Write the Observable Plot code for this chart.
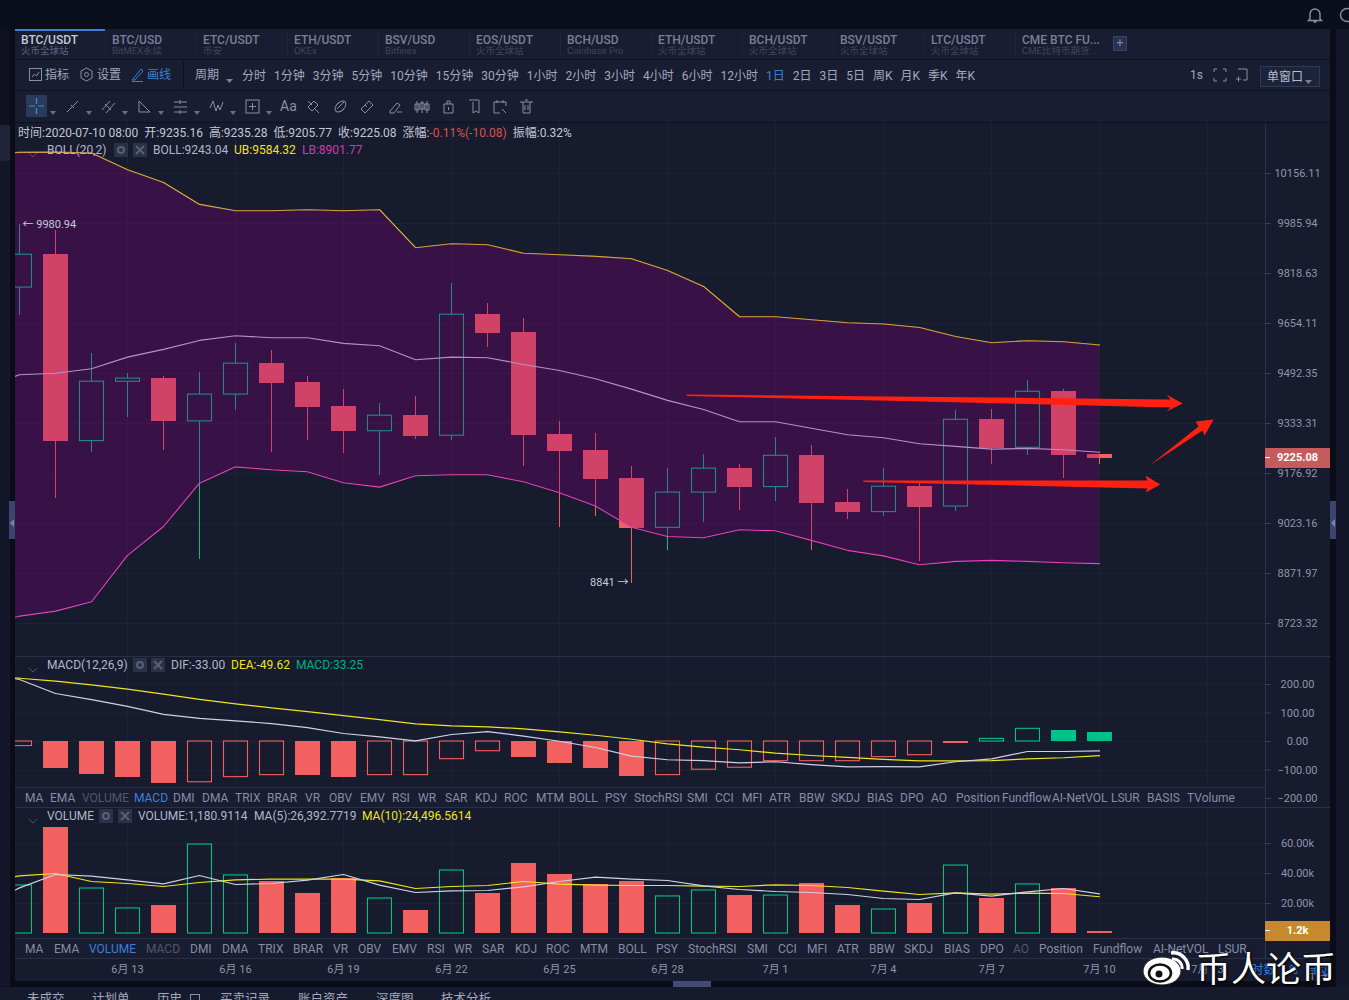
<!DOCTYPE html>
<html lang="zh"><head><meta charset="utf-8"><title>BTC/USDT</title>
<script src="https://cdn.jsdelivr.net/npm/d3@7"></script>
<script src="https://cdn.jsdelivr.net/npm/@observablehq/plot@0.6"></script>
<style>
html,body{margin:0;padding:0;width:1349px;height:1000px;overflow:hidden;background:#0b0e1a;}
body{position:relative;font:12px Roboto,"Noto Sans CJK SC",sans-serif;color:#a3a8bf;}
.a{position:absolute;white-space:nowrap;}
.row{display:flex;align-items:center;white-space:nowrap;}
.plotbox{position:absolute;left:15px;}
.plotbox svg{display:block;max-width:none;}
</style></head><body>
<script>
// ---------- data ----------
const tabTitles=["BTC/USDT","BTC/USD","ETC/USDT","ETH/USDT","BSV/USD","EOS/USDT","BCH/USD","ETH/USDT","BCH/USDT","BSV/USDT","LTC/USDT","CME BTC FU..."];
const tabSubs=["火币全球站","BitMEX永续","币安","OKEx","Bitfinex","火币全球站","Coinbase Pro","火币全球站","火币全球站","火币全球站","火币全球站","CME比特币期货..."];
const periods=["分时","1分钟","3分钟","5分钟","10分钟","15分钟","30分钟","1小时","2小时","3小时","4小时","6小时","12小时","1日","2日","3日","5日","周K","月K","季K","年K"];
const macdTabs=["MA","EMA","VOLUME","MACD","DMI","DMA","TRIX","BRAR","VR","OBV","EMV","RSI","WR","SAR","KDJ","ROC","MTM","BOLL","PSY","StochRSI","SMI","CCI","MFI","ATR","BBW","SKDJ","BIAS","DPO","AO","Position","Fundflow","AI-NetVOL","LSUR","BASIS","TVolume"];
const volTabs=["MA","EMA","VOLUME","MACD","DMI","DMA","TRIX","BRAR","VR","OBV","EMV","RSI","WR","SAR","KDJ","ROC","MTM","BOLL","PSY","StochRSI","SMI","CCI","MFI","ATR","BBW","SKDJ","BIAS","DPO","AO","Position","Fundflow","AI-NetVOL","LSUR"];
const bottomTabs=["未成交","计划单","历史","买卖记录","账户资产","深度图","技术分析"];

const openP=[9772,9882,9278,9466,9477,9340,9425,9525,9464,9387,9309,9359,9295,9684,9625,9299,9249,9162,9010,9118,9193,9135,9233,9088,9058,9137,9075,9346,9257,9435,9235.16];
const highP=[9980.94,9962,9556,9492,9483,9496,9589,9565,9483,9440,9396,9419,9787,9721,9672,9340,9301,9198,9192,9237,9205,9290,9264,9126,9193,9145,9375,9378,9470,9440,9235.28];
const lowP=[9680,9101,9243,9351,9247,8915,9374,9242,9281,9240,9172,9282,9280,9577,9200,9012,9046,8841,8941,9026,9064,9092,8942,9035,9046,8909,9060,9205,9233,9161,9205.77];
const closeP=[9881,9277,9466,9476,9340,9425,9524,9460,9384,9308,9358,9293,9683,9622,9296,9246,9158,9008,9118,9192,9134,9232,9085,9057,9136,9072,9345,9255,9434,9233,9225.08];
// Bollinger series start one day before the first visible candle
const ubP=[10222,10228.8,10229.8,10226.3,10168.9,10125.5,10050.6,10029.2,10029,10032.6,10029,10032.6,9904.6,9918,9914.7,9886,9881.2,9875.5,9867.8,9828.7,9775.9,9676.2,9676,9666.3,9656.4,9652.5,9641.2,9612,9591.7,9598.1,9594.9,9584.32];
const midP=[9448,9488.2,9493.3,9507.5,9545.1,9570,9599.1,9614.3,9607.8,9607.8,9589.4,9582,9536.7,9545.1,9543.2,9521.5,9502,9475.5,9442.4,9406.5,9377.8,9338.7,9338.7,9318.6,9298,9288.6,9269.8,9261.4,9252.9,9255.1,9251,9243.04];
const lbP=[8718,8745,8759.9,8787.8,8926.4,9014.1,9147.1,9197.6,9188.5,9182.2,9148.3,9134.8,9169.8,9172.9,9172.9,9151.4,9117.6,9076.4,9012,8983.8,8979.9,9004.1,9001.1,8971.8,8941.7,8925,8898.3,8908.4,8911.4,8908.4,8904.4,8901.77];

const macdHist=[-16,-94,-116,-126,-147,-143,-125,-118,-119,-126,-118,-118,-62,-34,-56,-77,-95,-123,-118,-99,-92,-69,-69,-69,-55,-48,-6,9.3,44.5,38.6,33.25];
const macdFilledDays=[1,2,3,4,8,9,14,15,16,17,26,29,30];
const difV=[240,217.5,168.4,147,123,95,81,72.5,63,49,28,16.4,2.3,24.6,35,18.7,1,-21,-51.5,-64,-67,-75,-71,-81,-89,-88,-89,-71,-61,-35,-35,-33];
const deaV=[228,222,212,199,184,166,148,132,118,105,91,77,62,55,51.5,44.5,34,22,8,-8,-20,-29,-41,-49,-56,-63,-68,-68,-67,-61,-57,-49.62];

const volumeV=[32000,70900,30000,16700,18900,59300,38700,34900,26900,36900,23300,15500,42000,26900,46900,39500,32900,34900,24700,28700,25500,25300,33500,18900,16000,20200,45300,23500,32700,29700,1180.91];
const ma5V=[18400,30440,39330,38220,35780,33110,38660,32660,33330,35550,39330,32220,27330,28440,28660,31110,34660,37550,36220,35330,31770,29330,28000,27330,26000,23330,22660,27110,24890,27780,30000,26392.77];
const ma10V=[34000,38440,40000,34670,33330,31330,34000,35780,36220,36220,36220,35110,30000,31330,32000,34670,32890,32220,32000,32000,31550,31330,32440,32000,30670,28220,26000,27110,26220,26890,26670,24496.56];

const priceTicks=[10156.11,9985.94,9818.63,9654.11,9492.35,9333.31,9176.92,9023.16,8871.97,8723.32];
const macdTicks=[200,100,0,-100,-200];
const volTicks=[20000,40000,60000];
const dayTicks=[3,6,9,12,15,18,21,24,27,30,33];
const dayLabels=["6月 13","6月 16","6月 19","6月 22","6月 25","6月 28","7月 1","7月 4","7月 7","7月 10","7月 13"];
const extremes=[{i:0,p:9980.94,t:"← 9980.94",side:"start"},{i:17,p:8841,t:"8841 →",side:"end"}];

// hand-drawn red annotation arrows: [day index, price] outline
const arrowUpper=[[18.53,9425.5],[31.97,9409.6],[31.86,9425.5],[32.31,9396.9],[31.86,9371.5],[31.97,9384.2],[18.53,9420.8]];
const arrowLower=[[23.44,9155.4],[31.33,9155.4],[31.28,9170.8],[31.69,9143.1],[31.28,9118.5],[31.33,9130.8],[23.44,9150.8]];
const arrowRise=[[31.39,9202],[32.75,9323.9],[32.67,9339.6],[33.17,9345.9],[32.92,9295.8],[32.86,9311.4]];

// ---------- layout of the text tab strips ----------
const macdTabX=[25,50,82,134,173,202,235,267,305,329,360,392,418,445,475,504,536,569,605,634,687,715,742,769,799,831,867,900,931,956,1002,1052,1111,1147,1187];
const volTabX=[25,54,89,146,190,222,258,293,333,358,392,427,454,482,515,546,580,618,656,688,747,778,807,837,869,904,944,980,1013,1039,1093,1153,1218];

// ---------- colours ----------
const UP="#00c288", DOWN="#f2605f", WHITE="#cfd1e6", YEL="#f0e41e", PINK="#ee45bd", GRID="#1d2235", AXIS="#2c3350", TICKTXT="#8f94ab";
const FONT='Roboto,"Noto Sans CJK SC",sans-serif';
const XD=[-4/36,1246/36];
const CRISP={shapeRendering:"crispEdges",clip:true};

function box(l,t,w,h,bg,extra=""){const d=document.createElement("div");d.className="a";d.style.cssText=`left:${l}px;top:${t}px;width:${w}px;height:${h}px;background:${bg};${extra}`;document.body.appendChild(d);return d;}
function txt(l,cy,s,color="#a3a8bf",size=12,extra=""){const d=document.createElement("div");d.className="a";d.style.cssText=`left:${l}px;top:${cy-9}px;height:18px;line-height:18px;color:${color};font-size:${size}px;${extra}`;d.textContent=s;document.body.appendChild(d);return d;}
function svgAt(l,t,w,h,inner){const d=document.createElement("div");d.className="a";d.style.cssText=`left:${l}px;top:${t}px;width:${w}px;height:${h}px;`;d.innerHTML=`<svg width="${w}" height="${h}" viewBox="0 0 ${w} ${h}" fill="none" stroke="#8a8fa8" stroke-width="1">${inner}</svg>`;document.body.appendChild(d);return d;}

// chart background sits beneath the plots
box(15,123,1315,858,"#161b2d");

const rows=openP.map((o,i)=>({i,o,h:highP[i],l:lowP[i],c:closeP[i],up:closeP[i]>=o,top:Math.max(o,closeP[i]),bot:Math.min(o,closeP[i]),
  hist:macdHist[i],filled:macdFilledDays.includes(i),vol:volumeV[i]}));
const lineRows=ubP.map((u,k)=>({i:k-1,ub:u,mid:midP[k],lb:lbP[k],dif:difV[k],dea:deaV[k],ma5:ma5V[k],ma10:ma10V[k]}));

const BW=12.5/36, HW=12/36, HOLLOW={strokeWidth:1.1,dx:.5,clip:true};
function bars(data,y2,colorOf,filled){
  return [
    Plot.rectY(data.filter(filled),{x1:d=>d.i-BW,x2:d=>d.i+BW,y1:0,y2,fill:colorOf,...CRISP}),
    Plot.rectY(data.filter(d=>!filled(d)),{x1:d=>d.i-HW,x2:d=>d.i+HW,y1:0,y2,fill:"none",stroke:colorOf,...HOLLOW})
  ];
}
function frameBase(ticks){
  return [
    Plot.ruleY(ticks,{stroke:GRID,strokeWidth:1,...CRISP}),
    Plot.ruleX(dayTicks,{stroke:GRID,strokeWidth:1,...CRISP})
  ];
}
function mount(svg,top){
  const b=document.createElement("div");b.className="plotbox";b.style.top=top+"px";b.appendChild(svg);document.body.appendChild(b);
}
const common=(h,mb=0)=>({width:1315,height:h,marginLeft:0,marginRight:65,marginTop:0,marginBottom:mb,
  style:{background:"transparent",fontFamily:FONT,fontSize:"11px",color:TICKTXT,overflow:"visible"}});

// ---------- main price panel ----------
const arrowMark=a=>Plot.line(a,{x:d=>d[0],y:d=>d[1],fill:"#ff2012",stroke:"none",curve:"linear"});
const pricePlot=Plot.plot({...common(532),
  x:{domain:XD,axis:null},
  y:{type:"log",domain:[8626.6,10325.7],range:[532,0],axis:null},
  marks:[
    ...frameBase(priceTicks),
    Plot.ruleX(rows,{x:"i",y1:"top",y2:"h",stroke:d=>d.up?UP:DOWN,strokeWidth:1,...CRISP}),
    Plot.ruleX(rows,{x:"i",y1:"l",y2:"bot",stroke:d=>d.up?UP:DOWN,strokeWidth:1,...CRISP}),
    Plot.rect(rows.filter(d=>!d.up),{x1:d=>d.i-BW,x2:d=>d.i+BW,y1:"top",y2:"bot",fill:DOWN,...CRISP}),
    Plot.rect(rows.filter(d=>d.up),{x1:d=>d.i-HW,x2:d=>d.i+HW,y1:"top",y2:"bot",fill:"none",stroke:UP,...HOLLOW}),
    Plot.line(lineRows,{x:"i",y:"ub",stroke:"#f5de22",strokeWidth:1.1,clip:true}),
    Plot.line(lineRows,{x:"i",y:"mid",stroke:WHITE,strokeWidth:1.1,clip:true}),
    Plot.line(lineRows,{x:"i",y:"lb",stroke:PINK,strokeWidth:1.1,clip:true}),
    Plot.areaY(lineRows,{x:"i",y1:"lb",y2:"ub",fill:"#83017e",fillOpacity:.31,clip:true}),
    Plot.ruleX([XD[1]],{stroke:AXIS}),
    Plot.axisY({ticks:priceTicks,anchor:"right",tickFormat:d3.format(".2f"),tickSize:5,tickPadding:27,textAnchor:"middle",stroke:"#3a4058",fill:TICKTXT}),
    Plot.text(extremes,{x:"i",y:"p",text:"t",textAnchor:"start",dx:3,dy:-1,fill:"#c6c9dc",filter:d=>d.side==="start"}),
    Plot.text(extremes,{x:"i",y:"p",text:"t",textAnchor:"end",dx:-3,dy:-1,fill:"#c6c9dc",filter:d=>d.side==="end"}),
    arrowMark(arrowUpper),arrowMark(arrowLower),arrowMark(arrowRise)
  ]});
mount(pricePlot,124);

// ---------- MACD panel ----------
const macdPlot=Plot.plot({...common(151),
  x:{domain:XD,axis:null},
  y:{domain:[-235,294.7],range:[151,0],axis:null},
  marks:[
    ...frameBase(macdTicks),
    ...bars(rows,"hist",d=>d.hist>=0?UP:DOWN,d=>d.filled),
    Plot.line(lineRows,{x:"i",y:"dea",stroke:YEL,strokeWidth:1.2,clip:true}),
    Plot.line(lineRows,{x:"i",y:"dif",stroke:WHITE,strokeWidth:1.2,clip:true}),
    Plot.ruleX([XD[1]],{stroke:AXIS}),
    Plot.axisY({ticks:macdTicks,anchor:"right",tickFormat:d3.format(".2f"),tickSize:5,tickPadding:27,textAnchor:"middle",stroke:"#3a4058",fill:TICKTXT})
  ]});
mount(macdPlot,657);

// ---------- Volume panel ----------
const volPlot=Plot.plot({...common(174,24),
  x:{domain:XD,axis:null},
  y:{domain:[-16667,83333],range:[150,0],axis:null},
  marks:[
    ...frameBase(volTicks),
    ...bars(rows,"vol",d=>d.up?UP:DOWN,d=>!d.up),
    Plot.line(lineRows,{x:"i",y:"ma10",stroke:YEL,strokeWidth:1.2,clip:true}),
    Plot.line(lineRows,{x:"i",y:"ma5",stroke:WHITE,strokeWidth:1.2,clip:true}),
    Plot.ruleX([XD[1]],{stroke:AXIS}),
    Plot.axisY({ticks:volTicks,anchor:"right",tickFormat:d=>(d/1000).toFixed(2)+"k",tickSize:5,tickPadding:27,textAnchor:"middle",stroke:"#3a4058",fill:TICKTXT}),
    Plot.axisX({ticks:dayTicks,tickFormat:d=>dayLabels[dayTicks.indexOf(d)],tickSize:0,tickPadding:7,fill:TICKTXT,stroke:"none"})
  ]});
mount(volPlot,808);

// ---------- page chrome ----------
box(0,0,1349,29,"#0b0e1b");
box(0,29,10,96,"#0d1120");box(0,125,10,36,"#1f2438");box(0,161,10,825,"#131729");
box(1336,29,13,960,"#131729");
box(15,29,1315,30,"#191d31");box(15,59,1315,1,"#0e1120");
box(15,60,1315,30,"#191d31");box(15,90,1315,1,"#0e1120");
box(15,91,1315,31,"#191d31");box(15,122,1315,1,"#0e1120");
box(15,656,1315,1,"#2a3048");

// top tabs
tabTitles.forEach((t,i)=>{
  const x=21+91*i;
  txt(x,40,t,i===0?"#c6c9dc":"#7a7f98",12,"font-weight:500;");
  txt(x,51,tabSubs[i],i===0?"#5f6480":"#40455c",9.5);
  if(i>0) box(x-7,33,1,23,"#20253b");
});
box(15,29,90,1.5,"#3a80d8");
box(1113,36,14,15,"#2a3150","border:1px solid #3a4468;box-sizing:border-box;color:#7f86a8;text-align:center;line-height:12px;").textContent="+";
svgAt(1306,6,18,18,`<path d="M4 13V8a5 5 0 0 1 10 0v5l1.5 1.5h-13zM7.5 16h3" stroke="#8a8fa8" stroke-width="1.4"/>`);
svgAt(1338,6,11,18,`<circle cx="9" cy="9" r="6.5" stroke="#8a8fa8" stroke-width="1.4"/>`);

// toolbar row 1
svgAt(29,68,13,13,`<rect x=".5" y=".5" width="12" height="12"/><path d="M3 9l2.5-3 2 2L10 4"/>`);
txt(45,75,"指标");
svgAt(80,67,13,15,`<path d="M6.5 1l5.5 3v7l-5.5 3L1 11V4z"/><circle cx="6.5" cy="7.5" r="2"/>`);
txt(97,75,"设置");
svgAt(131,67,13,15,`<path d="M2 12L10 2l2 2-8 9H1zM1 14.5h11" stroke="#3a80d8"/>`);
txt(147,75,"画线","#3a80d8");
box(183,60,1,30,"#0e1120");
txt(195,75,"周期");
svgAt(225,73,9,6,`<path d="M1 1h7L4.5 5z" fill="#7a7f98" stroke="none"/>`);
const per=document.createElement("div");per.className="a row";per.style.cssText="left:242px;top:65px;height:18px;gap:8px;";
periods.forEach(p=>{const s=document.createElement("span");s.textContent=p;if(p==="1日")s.style.color="#3a80d8";per.appendChild(s);});
document.body.appendChild(per);
txt(1190,75,"1s");
svgAt(1213,68,14,14,`<path d="M1 4V1h3M10 1h3v3M13 10v3h-3M4 13H1v-3" />`);
svgAt(1235,68,14,14,`<path d="M3 1h9v11H8M1 11h5M3.5 8.5v5"/>`);
const win=box(1260,66,60,21,"#1d2338","border:1px solid #2c3a60;box-sizing:border-box;color:#b6bacf;line-height:20px;padding-left:6px;");win.textContent="单窗口";
svgAt(1305,74,8,5,`<path d="M0 0h7L3.5 4z" fill="#7a7f98" stroke="none"/>`);

// toolbar row 2 (drawing tools)
box(26,95,21,22,"#2b3a57");
svgAt(26,95,21,22,`<path d="M10.5 3v6M10.5 13v6M3 11h6M12 11h6" stroke="#3a8ae8" stroke-width="1.2"/>`);
const toolPaths=[
 [65,`<path d="M2 13L13 2M6 6l3 3"/>`],
 [101,`<path d="M1 11L9 2M5 14L14 4M4 5l6 6"/>`],
 [137,`<path d="M2 13V2l11 11z"/>`],
 [173,`<path d="M1 3h13M1 8h13M1 13h13M7 1v4M7 11v4"/>`],
 [209,`<path d="M1 9L4 2l3 10 2-6 2 5 3-8"/>`],
 [245,`<rect x="1" y="1" width="13" height="13"/><path d="M7.5 4v7M4 7.5h7"/>`],
 [306,`<path d="M2 2l4 4M8 9l5 5M2 8l6-6 4 4-6 6z"/>`],
 [333,`<ellipse cx="7.5" cy="7.5" rx="6.5" ry="4" transform="rotate(-45 7.5 7.5)"/><path d="M4 10l7-7"/>`],
 [359,`<path d="M2 10l8-8 4 4-8 8zM6 6l2 2"/>`],
 [388,`<path d="M2 12l7-8 3 2-6 8H2zM9 13h5"/>`],
 [414,`<path d="M3 2v12M8 2v12M13 2v12M1 5h4v6H1zM6 4h4v6H6zM11 5h4v6h-4z"/>`],
 [441,`<path d="M3 5h9v9H3zM6 5V2h3v3M7.5 8v3"/>`],
 [467,`<path d="M2 1h10v13l-3-2-3 2V3"/>`],
 [492,`<path d="M2 3h12v4M2 3v11h6M10 10l4 4M5 1v3M11 1v3"/>`],
 [519,`<path d="M1 3h13M4 3v11h7V3M6 1h3M6 6v5M9 6v5"/>`]];
toolPaths.forEach(([x,p])=>svgAt(x,99,16,16,p));
[50,86,122,158,194,230,266].forEach(x=>svgAt(x,105,7,5,`<path d="M0 0h6L3 4z" fill="#6a6f88" stroke="none"/>`));
txt(280,106,"Aa","#8a8fa8",14);

// legend rows
const leg=document.createElement("div");leg.className="a row";leg.style.cssText="left:18px;top:122px;height:18px;gap:6px;color:#c3c6d8;";
[["时间:2020-07-10 08:00"],["开:9235.16"],["高:9235.28"],["低:9205.77"],["收:9225.08"],["涨幅:","-0.11%(-10.08)"],["振幅:0.32%"]].forEach(([a,b])=>{
  const s=document.createElement("span");s.textContent=a;if(b){const r=document.createElement("span");r.style.cssText="color:#d9534f;";r.textContent=b;s.appendChild(r);}leg.appendChild(s);});
document.body.appendChild(leg);
function iconBtns(a,b,cy){
  svgAt(a,cy-7,14,14,`<rect width="14" height="14" fill="#2b3147" stroke="none"/><circle cx="7" cy="7" r="3" stroke="#5a6078" stroke-width="2"/>`);
  svgAt(b,cy-7,14,14,`<rect width="14" height="14" fill="#2b3147" stroke="none"/><path d="M3 3l8 8M11 3l-8 8" stroke="#5a6078" stroke-width="2"/>`);
}
function chev(cy){svgAt(28,cy-3,10,6,`<path d="M1 1l4 4 4-4" stroke="#4e5470"/>`);}
chev(150);txt(47,150,"BOLL(20,2)","#b4b7cc");iconBtns(114,133,150);
txt(153,150,"BOLL:9243.04","#b4b7cc");txt(234,150,"UB:9584.32",YEL);txt(302,150,"LB:8901.77","#d43aa6");
chev(665);txt(47,665,"MACD(12,26,9)","#b4b7cc");iconBtns(133,151,665);
txt(171,665,"DIF:-33.00","#b4b7cc");txt(231,665,"DEA:-49.62",YEL);txt(296,665,"MACD:33.25","#00b080");
chev(816);txt(47,816,"VOLUME","#b4b7cc");iconBtns(99,118,816);
txt(138,816,"VOLUME:1,180.9114","#b4b7cc");txt(254,816,"MA(5):26,392.7719","#b4b7cc");txt(362,816,"MA(10):24,496.5614",YEL);

// indicator rows
function indRow(top,list,xs,cy,on,off,offExtra=[]){
  box(15,top,1250,20,"#191d31","border-top:1px solid #2a3048;box-sizing:border-box;");
  list.forEach((t,i)=>txt(xs[i],cy,t,t===on?"#3a80d8":(t===off||offExtra.includes(t))?"#51566f":"#878ca6"));
}
indRow(787,macdTabs,macdTabX,798,"MACD","VOLUME");
indRow(938,volTabs,volTabX,949,"VOLUME","MACD",["AO"]);
box(15,807,1315,1,"#2a3048");box(15,958,1315,1,"#2a3048");

// last value tags
box(1265,448,65,20,"#c65b5b");box(1265,457,5,1,"#fff");
txt(1265,457.5,"9225.08","#fff",11,"width:65px;text-align:center;font-weight:700;");
box(1265,921,65,20,"#c68a2c");box(1265,930,5,1,"#fff");
txt(1265,930.5,"1.2k","#fff",11,"width:65px;text-align:center;font-weight:700;");

// side handles
box(10,125,5,861,"#0a0d18");box(1330,29,6,957,"#0a0d18");
box(9,501,6,38,"#3c466c");box(1330,501,6,38,"#3c466c");
svgAt(10,516,5,8,`<path d="M4 0v8L0 4z" fill="#7a82a8" stroke="none"/>`);
svgAt(1331,516,5,8,`<path d="M4 0v8L0 4z" fill="#7a82a8" stroke="none"/>`);

// scrollbar + bottom tabs
box(15,981,1315,6,"#0a0d18");box(673,981,38,6,"#434b75");
svgAt(687,982,10,4,`<path d="M0 4h9L4.5 0z" fill="#9aa0c0" stroke="none"/>`);
box(0,987,1349,13,"#151a2c");
[27,92,157,220,298,376,441].forEach((x,i)=>txt(x,999,bottomTabs[i],"#a3a8bf",12.5));
svgAt(190,993,10,10,`<rect x=".5" y=".5" width="9" height="9"/>`);

// overlaid weibo watermark
txt(1251,970,"时数","#2f7de0",12.5);txt(1289,970,"%","#2f7de0",12);txt(1305,970,"自动","#2f7de0",12.5);
svgAt(1141,950,52,36,`<ellipse cx="21" cy="21" rx="19" ry="14" fill="#fff" stroke="#222" stroke-width="1"/>
<ellipse cx="19" cy="23" rx="11" ry="8.5" fill="none" stroke="#111" stroke-width="2.5"/><circle cx="18" cy="24" r="3.5" fill="#111" stroke="none"/>
<path d="M31 9a9 9 0 0 1 10 10" stroke="#fff" stroke-width="3"/><path d="M30 3a15 15 0 0 1 17 17" stroke="#fff" stroke-width="3.5"/>`);
txt(1196,967,"币人论币","#fff",35,'font-family:"Noto Sans CJK SC";height:40px;top:947px;line-height:40px;text-shadow:0 0 2px #000,1px 1px 2px #000;');
</script>
</body></html>
